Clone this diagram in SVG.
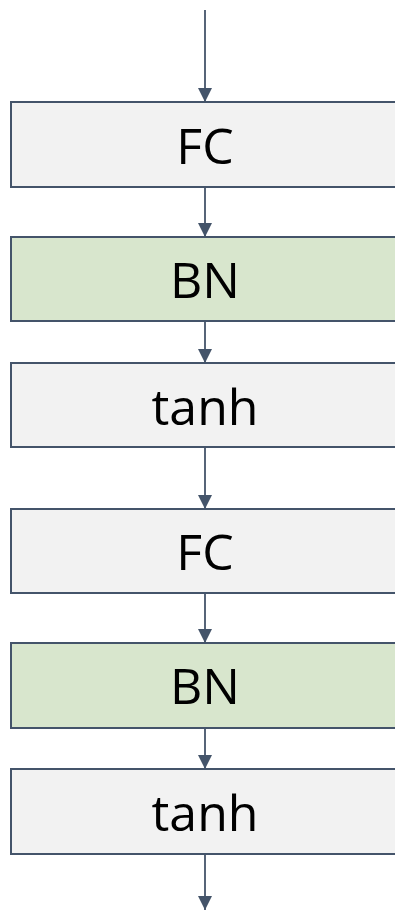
<svg xmlns="http://www.w3.org/2000/svg" width="395" height="912" viewBox="0 0 395 912">
<defs>
<style>
.box{stroke:#44546A;stroke-width:2}
.gray{fill:#F2F2F2}
.green{fill:#D8E6CD}
.lbl{font-family:"Open Sans","Liberation Sans",sans-serif;font-size:50px;fill:#000;text-anchor:middle}
.conn{stroke:#44546A;stroke-width:1.8;fill:none}
</style>
<marker id="ah" viewBox="0 0 14 14" refX="14" refY="7" markerWidth="14" markerHeight="14" markerUnits="userSpaceOnUse" orient="auto">
<path d="M0,0 L14,7 L0,14 Z" fill="#44546A"/>
</marker>
</defs>
<rect width="395" height="912" fill="#FFFFFF"/>
<g id="connectors">
<line class="conn" x1="205" y1="10" x2="205" y2="102" marker-end="url(#ah)"/>
<line class="conn" x1="205" y1="187" x2="205" y2="237" marker-end="url(#ah)"/>
<line class="conn" x1="205" y1="321" x2="205" y2="363" marker-end="url(#ah)"/>
<line class="conn" x1="205" y1="447" x2="205" y2="509" marker-end="url(#ah)"/>
<line class="conn" x1="205" y1="593" x2="205" y2="643" marker-end="url(#ah)"/>
<line class="conn" x1="205" y1="728" x2="205" y2="769" marker-end="url(#ah)"/>
<line class="conn" x1="205" y1="854" x2="205" y2="910" marker-end="url(#ah)"/>
</g>
<g id="fc1"><rect class="box gray" x="11" y="102" width="400" height="85"/><text class="lbl" x="205" y="164">FC</text></g>
<g id="bn1"><rect class="box green" x="11" y="237" width="400" height="84"/><text class="lbl" x="205" y="298">BN</text></g>
<g id="tanh1"><rect class="box gray" x="11" y="363" width="400" height="84"/><text class="lbl" x="205" y="425">tanh</text></g>
<g id="fc2"><rect class="box gray" x="11" y="509" width="400" height="84"/><text class="lbl" x="205" y="570">FC</text></g>
<g id="bn2"><rect class="box green" x="11" y="643" width="400" height="85"/><text class="lbl" x="205" y="704">BN</text></g>
<g id="tanh2"><rect class="box gray" x="11" y="769" width="400" height="85"/><text class="lbl" x="205" y="831">tanh</text></g>
</svg>
